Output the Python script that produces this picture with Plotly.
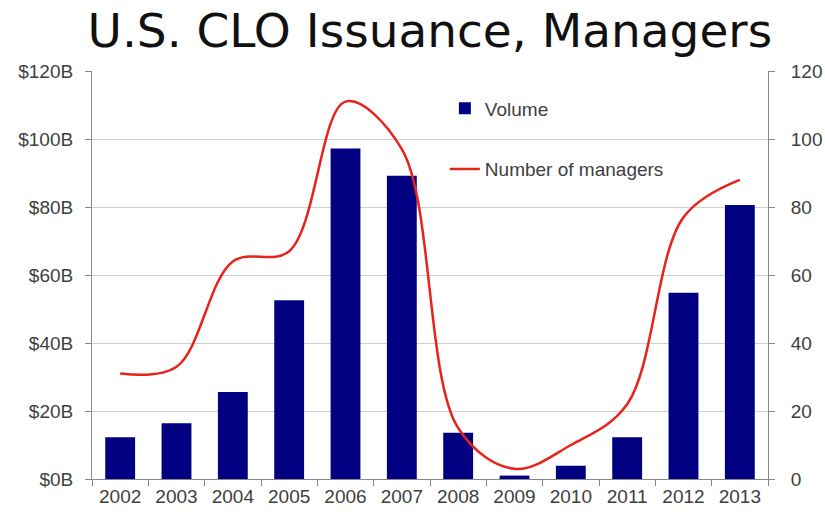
import plotly.graph_objects as go

years = ["2002", "2003", "2004", "2005", "2006", "2007", "2008", "2009", "2010", "2011", "2012", "2013"]
volume_bn = [12.3, 16.4, 25.6, 52.6, 97.2, 89.2, 13.6, 1.0, 3.9, 12.3, 54.8, 80.6]
managers = [31, 33, 64, 67, 111, 97, 15, 3, 10, 22, 77, 88]
left_ticks = [0, 20, 40, 60, 80, 100, 120]
left_labels = ["$0B", "$20B", "$40B", "$60B", "$80B", "$100B", "$120B"]
right_ticks = [0, 20, 40, 60, 80, 100, 120]
grid_vals = [20, 40, 60, 80, 100]

axis_font = dict(family="Liberation Sans, Arial, sans-serif", size=19, color="#404040")

fig = go.Figure()
# invisible helper trace so the gridline-only axis is rendered
fig.add_trace(go.Scatter(x=years, y=managers, yaxis="y3", mode="none",
                         showlegend=False, hoverinfo="skip"))
fig.add_trace(go.Bar(
    x=years, y=volume_bn, name="Volume", marker_color="#000080",
    marker_line_width=0, legendgroup="a", yaxis="y"))
fig.add_trace(go.Scatter(
    x=years, y=managers, name="Number of managers", mode="lines",
    line=dict(color="#e8231c", width=2.5, shape="spline", smoothing=1.0),
    legendgroup="b", yaxis="y2"))

fig.update_layout(
    width=825, height=517,
    margin=dict(l=92, r=57, t=71, b=38),
    paper_bgcolor="white", plot_bgcolor="white",
    title=dict(text="U.S. CLO Issuance, Managers", x=0.521, xanchor="center",
               y=0.94, yanchor="middle",
               font=dict(family="DejaVu Sans, Verdana, sans-serif", size=47, color="#111111")),
    bargap=0.47,
    showlegend=True,
    legend=dict(x=0.522, y=0.955, xanchor="left", yanchor="top",
                bgcolor="rgba(0,0,0,0)", font=axis_font,
                traceorder="grouped", tracegroupgap=33, itemwidth=30),
    xaxis=dict(type="category", tickfont=axis_font, showline=True,
               linecolor="#888888", linewidth=1, ticks="outside",
               tickcolor="#888888", ticklen=6, tickson="boundaries",
               showgrid=False, automargin=False),
    yaxis=dict(range=[0, 120], tickvals=left_ticks, ticktext=left_labels,
               tickfont=axis_font, showline=True, linecolor="#888888",
               ticks="outside", tickcolor="#888888", ticklen=6,
               ticklabelstandoff=8, automargin=False,
               showgrid=False, zeroline=False),
    yaxis2=dict(range=[0, 120], tickvals=right_ticks, overlaying="y", side="right",
                tickfont=axis_font, showline=True, linecolor="#888888",
                ticks="outside", tickcolor="#888888", ticklen=6,
                ticklabelstandoff=12, automargin=False,
                showgrid=False, zeroline=False),
    yaxis3=dict(range=[0, 120], tickvals=grid_vals, overlaying="y", side="left",
                showticklabels=False, ticks="", showline=False, automargin=False,
                showgrid=True, gridcolor="#cfcfcf", gridwidth=1, zeroline=False),
)

fig.write_html("out.html")
